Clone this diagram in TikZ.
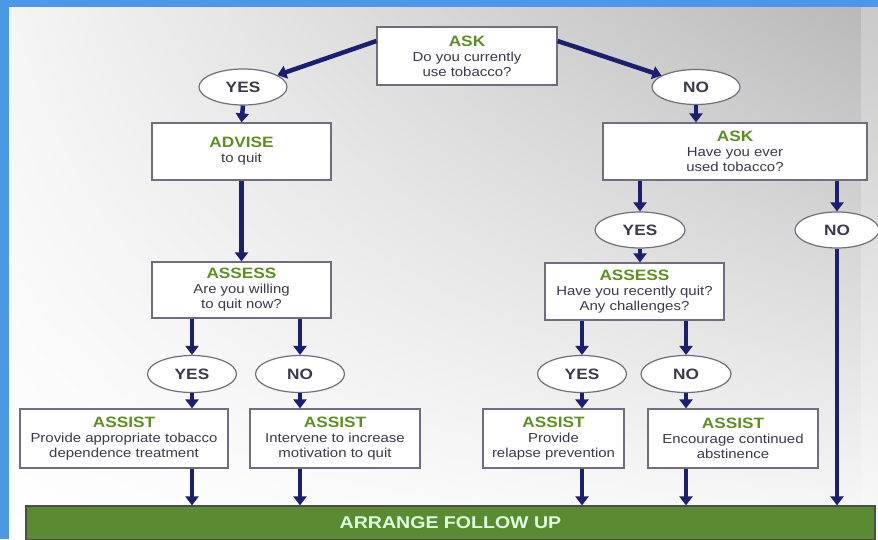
\documentclass[tikz,border=0pt]{standalone}
\usepackage{fontspec}
\setmainfont{Liberation Sans}[FakeStretch=1.15]
\usetikzlibrary{arrows.meta,shapes.geometric,shadings}
\definecolor{navy}{HTML}{1C1F6E}
\definecolor{hgreen}{HTML}{5E8F22}
\definecolor{txt}{HTML}{3A3A4A}
\definecolor{bdr}{HTML}{6E6E7E}
\definecolor{bar}{HTML}{5A8A32}
\definecolor{slide}{HTML}{4A98E6}
\newcommand{\hd}[1]{{\fontsize{15}{15}\selectfont\bfseries\color{hgreen}#1}}
\tikzset{
  boxnode/.style={draw=bdr,line width=1.2pt,fill=white,align=center,inner sep=1pt,
    font=\fontsize{13}{15}\selectfont,text=txt},
  oval/.style={ellipse,draw=bdr,line width=1.2pt,fill=white,inner sep=0pt,
    font=\fontsize{15}{15}\selectfont\bfseries,text=txt},
  arr/.style={draw=navy,line width=4.5pt,-{Triangle[width=13pt,length=9pt]}}
}
\begin{document}
\begin{tikzpicture}[x=1pt,y=-1pt]
\useasboundingbox (0,0) rectangle (878,539);
\fill[slide] (0,0) rectangle (878,539);
\shade[upper left=white!92!gray, upper right=black!28, lower left=white, lower right=white!96!gray]
  (9,7) rectangle (878,539);
\fill[white, opacity=0.25] (861,7) rectangle (878,539);
% boxes
\node[boxnode,minimum width=180pt,minimum height=58pt] (ask) at (467,56)
  {\hd{ASK}\\Do you currently\\use tobacco?};
\node[boxnode,minimum width=179pt,minimum height=57pt] (advise) at (241.5,151.5)
  {\hd{ADVISE}\\to quit};
\node[boxnode,minimum width=179pt,minimum height=56pt] (assessL) at (241.5,290)
  {\hd{ASSESS}\\Are you willing\\to quit now?};
\node[boxnode,minimum width=208pt,minimum height=59pt] (assist1) at (124,438.5)
  {\hd{ASSIST}\\Provide appropriate tobacco\\dependence treatment};
\node[boxnode,minimum width=170pt,minimum height=59pt] (assist2) at (335,438.5)
  {\hd{ASSIST}\\Intervene to increase\\motivation to quit};
\node[boxnode,minimum width=264pt,minimum height=57pt] (askR) at (735,151.5)
  {\hd{ASK}\\Have you ever\\used tobacco?};
\node[boxnode,minimum width=179pt,minimum height=57pt] (assessR) at (634.5,291.5)
  {\hd{ASSESS}\\Have you recently quit?\\Any challenges?};
\node[boxnode,minimum width=141pt,minimum height=59pt] (assist3) at (553.5,438.5)
  {\hd{ASSIST}\\Provide\\relapse prevention};
\node[boxnode,minimum width=170pt,minimum height=59pt] (assist4) at (733,438.5)
  {\hd{ASSIST}\\Encourage continued\\abstinence};
% bar
\node[draw=black!70,line width=1.2pt,fill=bar,minimum width=849pt,minimum height=34pt,inner sep=0pt,
  font=\fontsize{17}{17}\selectfont\bfseries,text=white!88!green] (bar) at (450.5,523)
  {ARRANGE FOLLOW UP};
% ovals
\node[oval,minimum width=88pt,minimum height=36pt] (yes1) at (243,87) {YES};
\node[oval,minimum width=88pt,minimum height=35pt] (no1) at (696,87) {NO};
\node[oval,minimum width=90pt,minimum height=36pt] (yes2) at (640,230) {YES};
\node[oval,minimum width=84pt,minimum height=36pt] (no2) at (837,230) {NO};
\node[oval,minimum width=89pt,minimum height=37pt] (yes3) at (192,374) {YES};
\node[oval,minimum width=89pt,minimum height=37pt] (no3) at (300,374) {NO};
\node[oval,minimum width=89pt,minimum height=37pt] (yes4) at (582,374) {YES};
\node[oval,minimum width=90pt,minimum height=37pt] (no4) at (686,374) {NO};
% arrows
\draw[arr] ([yshift=15pt]ask.west) -- (yes1);
\draw[arr] ([yshift=15pt]ask.east) -- (no1);
\draw[arr] (yes1.south) -- (advise.north);
\draw[arr] (no1.south) -- (no1.south |- askR.north);
\draw[arr] (advise.south) -- (assessL.north);
\draw[arr] (assessL.south -| yes3) -- (yes3.north);
\draw[arr] (assessL.south -| no3) -- (no3.north);
\draw[arr] (yes3.south) -- (yes3.south |- assist1.north);
\draw[arr] (no3.south) -- (no3.south |- assist2.north);
\draw[arr] (assist1.south -| yes3) -- (bar.north -| yes3);
\draw[arr] (assist2.south -| no3) -- (bar.north -| no3);
\draw[arr] (askR.south -| yes2) -- (yes2.north);
\draw[arr] (askR.south -| no2) -- (no2.north);
\draw[arr] (yes2.south) -- (yes2.south |- assessR.north);
\draw[arr] (assessR.south -| yes4) -- (yes4.north);
\draw[arr] (assessR.south -| no4) -- (no4.north);
\draw[arr] (yes4.south) -- (yes4.south |- assist3.north);
\draw[arr] (no4.south) -- (no4.south |- assist4.north);
\draw[arr] (assist3.south -| yes4) -- (bar.north -| yes4);
\draw[arr] (assist4.south -| no4) -- (bar.north -| no4);
\draw[arr] (no2.south) -- (bar.north -| no2);
\end{tikzpicture}
\end{document}
